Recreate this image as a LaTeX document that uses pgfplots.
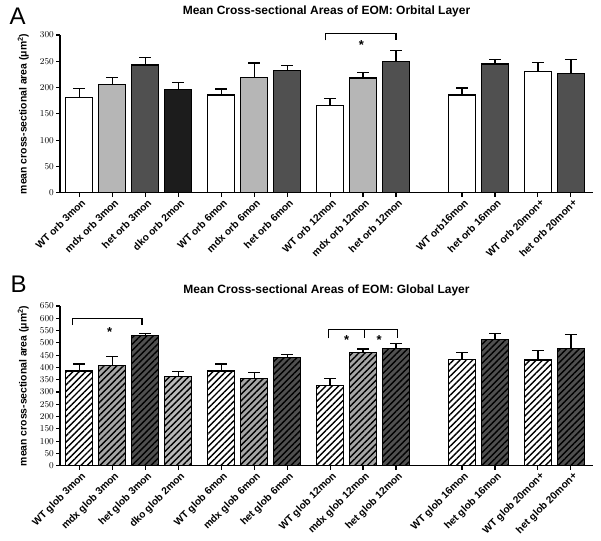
\documentclass[border=0pt]{standalone}
\usepackage{pgfplots}
\pgfplotsset{compat=1.18}
\usepackage{fontspec}
\setmainfont{Liberation Sans}
\usetikzlibrary{patterns.meta}

\definecolor{lightbar}{RGB}{182,182,182}
\definecolor{darkbar}{RGB}{80,80,80}
\definecolor{blackbar}{RGB}{28,28,28}

\pgfplotsset{
  eom/.style={
    scale only axis, width=533pt,
    axis lines=left, axis line style={-, line width=1.1pt},
    xmin=-0.585, xmax=15.57, ymin=0,
    ybar, bar width=27pt,
    xtick={0,1,2,3,4.3,5.3,6.3,7.6,8.6,9.6,11.6,12.6,13.9,14.9},
    tick align=outside, major tick length=4pt,
    tick style={black, line width=1.1pt},
    x tick label style={rotate=45, anchor=north east, inner sep=2pt, xshift=2pt,
      font=\fontsize{10.2}{11}\selectfont\bfseries},
    y tick label style={font=\fontsize{9.5}{10}\selectfont\bfseries, inner sep=2pt},
    ylabel={mean cross-sectional area (μm\textsuperscript{2})},
    ylabel style={at={(axis description cs:-0.069,0.5)}, anchor=center,
      font=\fontsize{10.4}{11}\selectfont\bfseries},
    title style={anchor=center, font=\fontsize{12}{13}\selectfont\bfseries},
    clip=false,
  },
  onebar/.style={bar shift=0pt, draw=black, line width=1.3pt,
    error bars/y dir=plus, error bars/y explicit,
    error bars/error bar style={line width=1.3pt, black},
    error bars/error mark options={rotate=90, mark size=6pt, line width=1.3pt, black}},
  hatch/.style={preaction={fill=#1},
    pattern={Lines[angle=45, distance=4.5pt, line width=1.4pt]}, pattern color=black},
}

\begin{document}
\begin{tikzpicture}
\useasboundingbox (0,0) rectangle (601pt,-540pt);

% ---- A: orbital layer
\begin{axis}[eom, at={(60pt,-192.7pt)}, anchor=south west, height=157.7pt,
    ymax=300, ytick={0,50,...,300},
    xticklabels={WT orb 3mon, mdx orb 3mon, het orb 3mon, dko orb 2mon,
      WT orb 6mon, mdx orb 6mon, het orb 6mon,
      WT orb 12mon, mdx orb 12mon, het orb 12mon,
      WT orb16mon, het orb 16mon, WT orb 20mon+, het orb 20mon+},
    title={Mean Cross-sectional Areas of EOM: Orbital Layer},
    title style={at={(axis description cs:0.5,1)}, yshift=18pt}]
\addplot[onebar, fill=white] table[x=x, y=y, y error=e] {
x y e
0 181.5 17
4.3 186 11
7.6 166 13
11.6 186 13
13.9 230 18
};
\addplot[onebar, fill=lightbar] table[x=x, y=y, y error=e] {
x y e
1 206 13.5
5.3 219 28
8.6 218 11
};
\addplot[onebar, fill=darkbar] table[x=x, y=y, y error=e] {
x y e
2 243 14.6
6.3 233 9
9.6 249 21
12.6 245 8
14.9 227 27
};
\addplot[onebar, fill=blackbar] table[x=x, y=y, y error=e] {
x y e
3 196.7 12.3
};
\draw[line width=1.1pt] (axis cs:7.45,290) -- (axis cs:7.45,303) -- (axis cs:9.6,303) -- (axis cs:9.6,290);
\node[font=\fontsize{13}{14}\selectfont\bfseries] at (axis cs:8.55,280) {*};
\end{axis}

% ---- B: global layer
\begin{axis}[eom, at={(60pt,-465.7pt)}, anchor=south west, height=159.7pt,
    ymax=650, ytick={0,50,...,650},
    xticklabels={WT glob 3mon, mdx glob 3mon, het glob 3mon, dko glob 2mon,
      WT glob 6mon, mdx glob 6mon, het glob 6mon,
      WT glob 12mon, mdx glob 12mon, het glob 12mon,
      WT glob 16mon, het glob 16mon, WT glob 20mon+, het glob 20mon+},
    title={Mean Cross-sectional Areas of EOM: Global Layer},
    title style={at={(axis description cs:0.5,1)}, yshift=10pt}]
\addplot[onebar, hatch=white] table[x=x, y=y, y error=e] {
x y e
0 385 29
4.3 385 29
7.6 326 30
11.6 432 29
13.9 430 39
};
\addplot[onebar, hatch=gray!70] table[x=x, y=y, y error=e] {
x y e
1 408 36
5.3 356 24
8.6 461 14
};
\addplot[onebar, hatch=darkbar] table[x=x, y=y, y error=e] {
x y e
2 529 10
6.3 440 13
9.6 476 22
12.6 514 25
14.9 476 57
};
\addplot[onebar, hatch=gray!55] table[x=x, y=y, y error=e] {
x y e
3 362 21
};
\draw[line width=1.1pt] (axis cs:-0.2,572) -- (axis cs:-0.2,600) -- (axis cs:1.9,600) -- (axis cs:1.9,572);
\node[font=\fontsize{13}{14}\selectfont\bfseries] at (axis cs:0.92,545) {*};
\draw[line width=1.1pt] (axis cs:7.55,518) -- (axis cs:7.55,555) -- (axis cs:9.64,555) -- (axis cs:9.64,518);
\draw[line width=1.1pt] (axis cs:8.64,555) -- (axis cs:8.64,518);
\node[font=\fontsize{13}{14}\selectfont\bfseries] at (axis cs:8.1,513) {*};
\node[font=\fontsize{13}{14}\selectfont\bfseries] at (axis cs:9.09,513) {*};
\end{axis}

\node[font=\fontsize{24}{24}\selectfont, anchor=base west] at (6pt,-25pt) {A};
\node[font=\fontsize{24}{24}\selectfont, anchor=base west] at (7pt,-292pt) {B};
\end{tikzpicture}
\end{document}
